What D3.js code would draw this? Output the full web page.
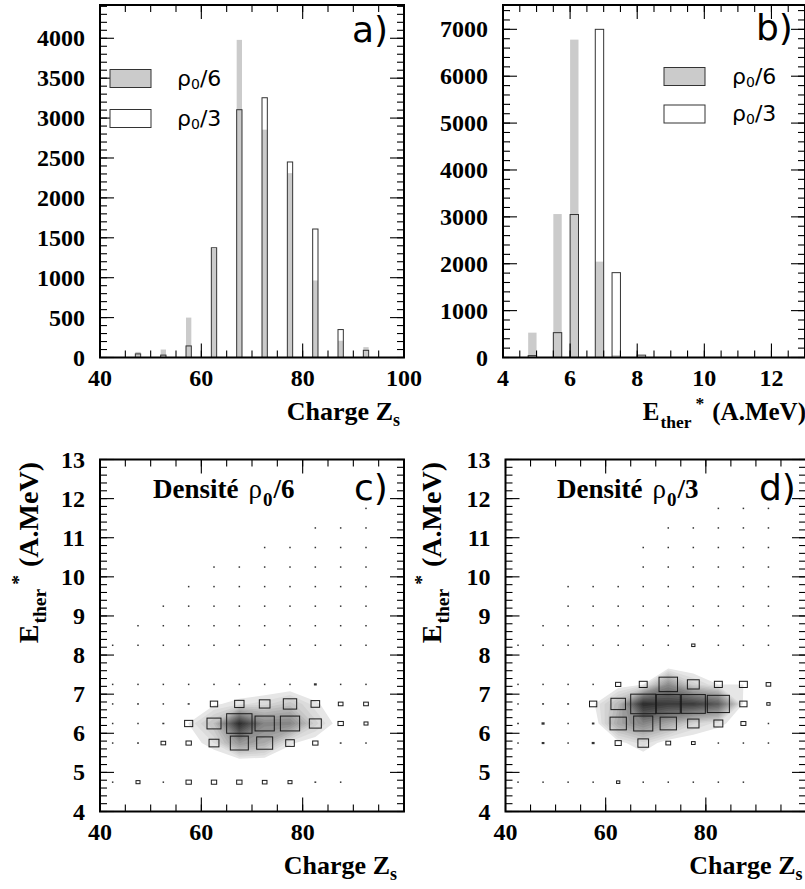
<!DOCTYPE html>
<html><head><meta charset="utf-8">
<script src="https://cdn.jsdelivr.net/npm/d3@7"></script>
<style>body{margin:0;background:#fff} svg{display:block}</style>
</head><body>
<svg id="fig" width="805" height="889"></svg>
<script>
// ---------------- DATA ----------------
// a) charge distribution (1D)
const zBarCenters = [47.5, 52.5, 57.5, 62.5, 67.5, 72.5, 77.5, 82.5, 87.5, 92.5];
const zCountsRho6 = [70, 100, 500, 1360, 3980, 2855, 2310, 965, 210, 130];
const zCountsRho3 = [45, 30, 145, 1375, 3105, 3255, 2450, 1610, 350, 90];
// b) thermal energy distribution (1D)
const eBarCenters = [4.875, 5.625, 6.125, 6.875, 7.375, 8.125];
const eCountsRho6 = [530, 3060, 6780, 2045, 50, 30];
const eCountsRho3 = [40, 530, 3050, 7000, 1810, 50];
// c), d) 2D bins
const zBinCenters2D = [42.5, 47.5, 52.5, 57.5, 62.5, 67.5, 72.5, 77.5, 82.5, 87.5, 92.5, 97.5];
const eBinCenters2D = [4.25, 4.75, 5.25, 5.75, 6.25, 6.75, 7.25, 7.75, 8.25, 8.75, 9.25, 9.75, 10.25, 10.75, 11.25, 11.75, 12.25, 12.75];
// rows: E from 4.25 (first) to 12.75 (last); columns: Z from 42.5 to 97.5
const cellsRho6 = [
  [0,0,0,0,0,0,0,0,0,0,0,0],
  [2,58,5,104,104,104,78,58,12,5,0,0],
  [0,0,0,0,0,0,0,0,0,0,0,0],
  [3,12,78,104,356,1180,930,270,104,12,4,0],
  [3,6,15,240,715,2340,1350,1350,520,104,58,0],
  [3,12,5,15,197,320,415,650,270,80,80,0],
  [2,2,2,6,3,3,6,3,30,3,2,0],
  [0,0,0,0,0,0,0,0,0,0,0,0],
  [1,2,1,2,2,2,3,2,2,2,2,0],
  [0,1,1,1,1,1,1,1,1,1,1,0],
  [0,0,1,1,1,1,1,1,1,1,1,0],
  [0,0,0,1,1,1,1,1,1,1,1,0],
  [0,0,0,0,1,1,1,1,1,1,1,0],
  [0,0,0,0,0,0,1,1,1,1,1,0],
  [0,0,0,0,0,0,0,0,1,1,1,0],
  [0,0,0,0,0,0,0,0,0,0,1,0],
  [0,0,0,0,0,0,0,0,0,0,0,0],
  [0,0,0,0,0,0,0,0,0,0,0,0]
];
const cellsRho3 = [
  [0,0,0,0,0,0,0,0,0,0,0,0],
  [1,2,2,2,28,2,2,5,2,2,0,0],
  [0,0,0,0,0,0,0,0,0,0,0,0],
  [3,20,4,22,100,300,60,35,4,5,1,0],
  [8,25,4,17,700,960,700,340,210,65,4,0],
  [3,10,10,139,555,1650,1520,1520,1280,139,28,0],
  [3,3,3,5,73,165,900,370,165,165,56,0],
  [0,0,0,0,0,0,0,0,0,0,0,0],
  [1,2,2,2,2,2,6,28,2,6,2,0],
  [0,1,1,1,1,1,1,1,1,1,5,0],
  [0,0,1,1,1,1,1,1,1,1,1,0],
  [0,0,1,1,1,1,1,1,1,1,1,0],
  [0,0,0,0,0,1,1,1,1,1,1,0],
  [0,0,0,0,0,1,1,1,1,1,1,0],
  [0,0,0,0,0,0,1,1,1,1,1,0],
  [0,0,0,0,0,0,0,0,1,1,1,0],
  [0,0,0,0,0,0,0,0,0,0,0,0],
  [0,0,0,0,0,0,0,0,0,0,0,0]
];
// tick labels
const zTicksA = [40, 60, 80, 100];
const zTicksCD = [40, 60, 80];
const countTicksA = [0, 500, 1000, 1500, 2000, 2500, 3000, 3500, 4000];
const eTicksB = [4, 6, 8, 10, 12];
const countTicksB = [0, 1000, 2000, 3000, 4000, 5000, 6000, 7000];
const eTicksCD = [4, 5, 6, 7, 8, 9, 10, 11, 12, 13];
const legendLabels = [["ρ", "0", "/6"], ["ρ", "0", "/3"]];
const panelLetters = ["a)", "b)", "c)", "d)"];

// ---------------- DRAW ----------------
const svg = d3.select("#fig");
const SERIF = "'Liberation Serif','Times New Roman',serif";
const SANS = "'DejaVu Sans',sans-serif";
const GRAY = "#cbcbcb";

function frame(g, x, y, o) {
  const [x0, x1] = x.range(), [y0, y1] = y.range(); // y0 bottom, y1 top
  const tl = g.append("g").attr("stroke", "#000").attr("stroke-width", 1.1);
  const vx = (v, L) => { tl.append("line").attr("x1", x(v)).attr("x2", x(v)).attr("y1", y0).attr("y2", y0 - L);
                         tl.append("line").attr("x1", x(v)).attr("x2", x(v)).attr("y1", y1).attr("y2", y1 + L); };
  const vy = (v, L) => { tl.append("line").attr("y1", y(v)).attr("y2", y(v)).attr("x1", x0).attr("x2", x0 + L);
                         tl.append("line").attr("y1", y(v)).attr("y2", y(v)).attr("x1", x1).attr("x2", x1 - L); };
  o.xMinor.forEach(v => vx(v, 7)); o.xMajor.forEach(v => vx(v, 14));
  o.yMinor.forEach(v => vy(v, 7)); o.yMajor.forEach(v => vy(v, 14));
  g.append("rect").attr("x", x0).attr("y", y1).attr("width", x1 - x0).attr("height", y0 - y1)
    .attr("fill", "none").attr("stroke", "#000").attr("stroke-width", 2);
  // labels
  g.selectAll(null).data(o.xLabels).join("text").attr("x", d => x(d)).attr("y", y0 + 28)
    .attr("text-anchor", "middle").attr("font-family", SERIF).attr("font-weight", "bold")
    .attr("font-size", 24).text(d => d);
  g.selectAll(null).data(o.yLabels).join("text").attr("x", x0 - 15).attr("y", d => y(d) + 8)
    .attr("text-anchor", "end").attr("font-family", SERIF).attr("font-weight", "bold")
    .attr("font-size", 24).text(d => d);
}
const range = (a, b, s) => d3.range(a, b + s / 2, s);

function hist(g, x, y, centers, w, c6, c3) {
  g.selectAll(null).data(centers).join("rect")
    .attr("x", d => x(d - w / 2)).attr("width", d => x(d + w / 2) - x(d - w / 2))
    .attr("y", (d, i) => y(c6[i])).attr("height", (d, i) => y(0) - y(c6[i])).attr("fill", GRAY);
  g.selectAll(null).data(centers).join("rect")
    .attr("x", d => x(d - w / 2)).attr("width", d => x(d + w / 2) - x(d - w / 2))
    .attr("y", (d, i) => y(c3[i])).attr("height", (d, i) => y(0) - y(c3[i]))
    .attr("fill", "none").attr("stroke", "#333").attr("stroke-width", 1);
}
function legend(g, bx, by1, by2, tx) {
  [[by1, GRAY], [by2, "#fff"]].forEach(([by, f], i) => {
    g.append("rect").attr("x", bx).attr("y", by).attr("width", 41).attr("height", 18)
      .attr("fill", f).attr("stroke", "#333").attr("stroke-width", 1);
    const t = g.append("text").attr("x", tx).attr("y", by + 16).attr("font-family", SANS).attr("font-size", 22);
    t.append("tspan").text(legendLabels[i][0]);
    t.append("tspan").attr("font-size", 14).attr("dy", 3).text(legendLabels[i][1]);
    t.append("tspan").attr("dy", -3).text(legendLabels[i][2]);
  });
}
function letter(g, xx, yy, s) {
  g.append("text").attr("x", xx).attr("y", yy).attr("font-family", SANS).attr("font-size", 36).text(s);
}
function chargeTitle(g, xEnd, yBase) {
  const t = g.append("text").attr("x", xEnd).attr("y", yBase).attr("text-anchor", "end")
    .attr("font-family", SERIF).attr("font-weight", "bold").attr("font-size", 26);
  t.append("tspan").text("Charge Z");
  t.append("tspan").attr("font-size", 18).attr("dy", 6).text("s");
}
function eTitle(t, size) {
  t.attr("font-family", SERIF).attr("font-weight", "bold").attr("font-size", size);
  t.append("tspan").text("E");
  t.append("tspan").attr("font-size", size * 0.7).attr("dy", size * 0.3).attr("dx", 1).text("ther");
  t.append("tspan").attr("font-size", size * 0.7).attr("dy", -size * 0.75).attr("dx", 4).text("*");
  t.append("tspan").attr("dy", size * 0.45).attr("dx", 8).text("(A.MeV)");
}

// ---- panel a
{
  const g = svg.append("g");
  const x = d3.scaleLinear().domain([40, 100]).range([100, 404]);
  const y = d3.scaleLinear().domain([0, 4417]).range([357.5, 5]);
  hist(g, x, y, zBarCenters, 1.05, zCountsRho6, zCountsRho3);
  frame(g, x, y, { xMajor: range(40, 100, 20), xMinor: range(40, 100, 5), yMajor: range(0, 4000, 500),
    yMinor: range(0, 4400, 100), xLabels: zTicksA, yLabels: countTicksA });
  legend(g, 110, 69.5, 109.5, 177);
  letter(g, 352, 42, panelLetters[0]);
  chargeTitle(g, 400, 420);
}
// ---- panel b
{
  const g = svg.append("g");
  const x = d3.scaleLinear().domain([4, 13]).range([503, 805]);
  const y = d3.scaleLinear().domain([0, 7519]).range([357.5, 5]);
  hist(g, x, y, eBarCenters, 0.25, eCountsRho6, eCountsRho3);
  frame(g, x, y, { xMajor: range(4, 12, 2), xMinor: range(4, 13, 0.5), yMajor: range(0, 7000, 1000),
    yMinor: range(0, 7400, 200), xLabels: eTicksB, yLabels: countTicksB });
  legend(g, 664, 67.5, 105, 732);
  letter(g, 756, 40, panelLetters[1]);
  const t = g.append("text").attr("x", 806).attr("y", 420).attr("text-anchor", "end");
  eTitle(t, 25);
}
// ---- panels c, d
function panel2D(x0, x1, cells, title, letterX, titleX, rotX, idx) {
  const g = svg.append("g");
  const x = d3.scaleLinear().domain([40, 100]).range([x0, x1]);
  const y = d3.scaleLinear().domain([4, 13]).range([811.5, 459.5]);
  const nx = zBinCenters2D.length, ny = eBinCenters2D.length;
  const dz = zBinCenters2D[1] - zBinCenters2D[0], de = eBinCenters2D[1] - eBinCenters2D[0];
  const zLo = zBinCenters2D[0] - dz / 2, eLo = eBinCenters2D[0] - de / 2;
  const values = [];
  for (let j = 0; j < ny; j++) for (let i = 0; i < nx; i++) values.push(cells[j][i]);
  const vmax = d3.max(values);
  const levels = d3.range(2, 20).map(k => k * vmax / 20);
  const cont = d3.contours().size([nx, ny]).thresholds(levels)(values);
  const proj = d3.geoTransform({ point(px, py) { this.stream.point(x(zLo + px * dz), y(eLo + py * de)); } });
  const path = d3.geoPath(proj);
  const col = d3.scaleLinear().domain([levels[0], levels[levels.length - 1]]).range(["#e6e6e6", "#303030"]);
  g.append("g").selectAll("path").data(cont).join("path").attr("d", path).attr("fill", d => col(d.value));
  // boxes
  const s = d3.scaleSqrt().domain([0, vmax]).range([0, 1]);
  const bw = x(zLo + dz) - x(zLo), bh = y(eLo) - y(eLo + de);
  const boxes = [];
  for (let j = 0; j < ny; j++) for (let i = 0; i < nx; i++) if (cells[j][i] > 0)
    boxes.push({ z: zBinCenters2D[i], e: eBinCenters2D[j], v: cells[j][i] });
  g.append("g").selectAll("rect").data(boxes).join("rect")
    .each(function (d) {
      const w = Math.max(1.5, s(d.v) * bw), h = Math.max(1.5, s(d.v) * bh);
      const small = w < 3.2;
      d3.select(this).attr("x", x(d.z) - w / 2).attr("y", y(d.e) - h / 2).attr("width", w).attr("height", h)
        .attr("fill", small ? "#333" : "none").attr("stroke", small ? "none" : "#1a1a1a").attr("stroke-width", 1);
    });
  frame(g, x, y, { xMajor: range(40, 100, 20), xMinor: range(40, 100, 5), yMajor: range(4, 13, 1),
    yMinor: range(4, 13, 0.2), xLabels: zTicksCD, yLabels: eTicksCD });
  // title
  const t = g.append("text").attr("x", titleX).attr("y", 498).attr("font-family", SERIF).attr("font-weight", "bold").attr("font-size", 27);
  t.append("tspan").text("Densité");
  t.append("tspan").attr("font-weight", "normal").attr("dx", 10).text("ρ");
  t.append("tspan").attr("font-size", 19).attr("dy", 8).attr("dx", 1).text("0");
  t.append("tspan").attr("dy", -8).attr("dx", 1).text(title);
  letter(g, letterX, 500, panelLetters[idx]);
  chargeTitle(g, x0 + 297, 874);
  const r = g.append("text").attr("transform", `translate(${rotX},462) rotate(-90)`).attr("text-anchor", "end");
  eTitle(r, 28);
}
panel2D(100, 404, cellsRho6, "/6", 354, 153, 38, 2);
panel2D(505.5, 806, cellsRho3, "/3", 759, 557, 441, 3);
</script>
</body></html>
